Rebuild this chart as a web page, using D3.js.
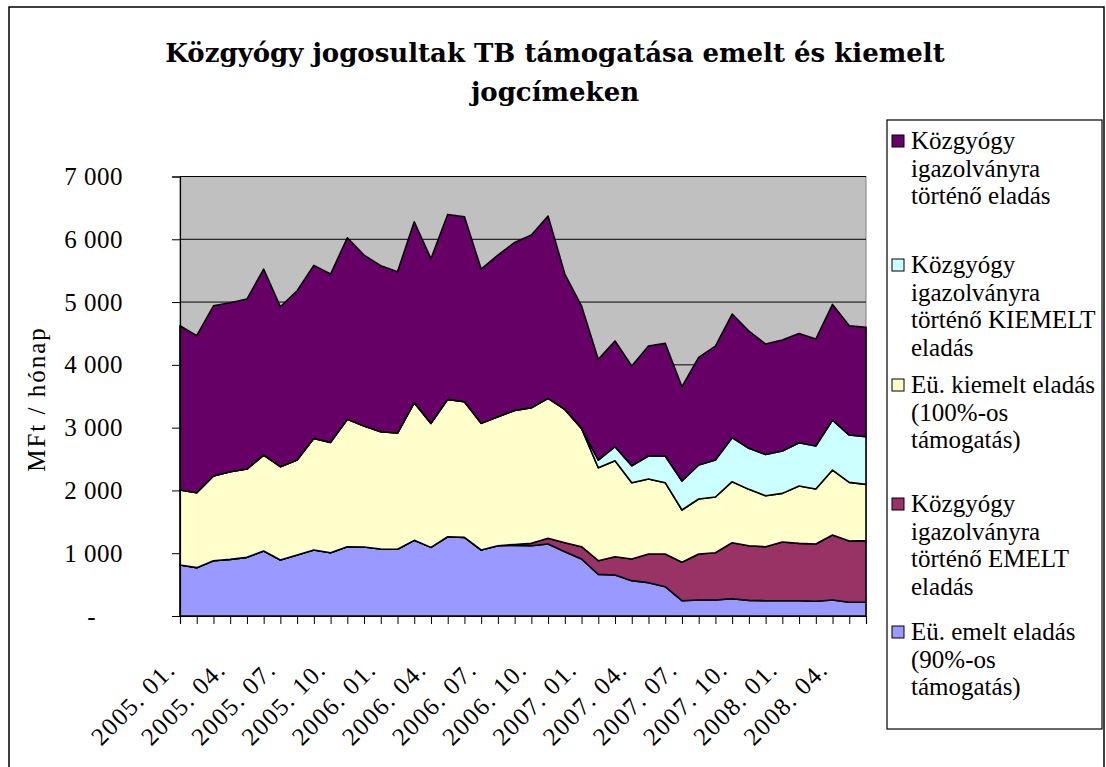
<!DOCTYPE html>
<head>
    <meta charset="utf-8">
    <script src="https://d3js.org/d3.v7.min.js"></script>
    <style>
        body { margin: 0; background: #fff; }
        text { fill: #000; }
    </style>
</head>
<body>
    <svg></svg>
</body>

<script>
    // Months (category axis)
    var months = ["2005. 01.", "2005. 02.", "2005. 03.", "2005. 04.", "2005. 05.", "2005. 06.",
        "2005. 07.", "2005. 08.", "2005. 09.", "2005. 10.", "2005. 11.", "2005. 12.",
        "2006. 01.", "2006. 02.", "2006. 03.", "2006. 04.", "2006. 05.", "2006. 06.",
        "2006. 07.", "2006. 08.", "2006. 09.", "2006. 10.", "2006. 11.", "2006. 12.",
        "2007. 01.", "2007. 02.", "2007. 03.", "2007. 04.", "2007. 05.", "2007. 06.",
        "2007. 07.", "2007. 08.", "2007. 09.", "2007. 10.", "2007. 11.", "2007. 12.",
        "2008. 01.", "2008. 02.", "2008. 03.", "2008. 04.", "2008. 05.", "2008. 06."];

    // Series values, MFt / month (bottom to top of the stack)
    var euEmelt = [812, 770, 881, 902, 934, 1035, 892, 971, 1051, 1008, 1104, 1099, 1067, 1062,
        1205, 1093, 1263, 1253, 1051, 1120, 1125, 1120, 1146, 1024, 908, 663, 653, 563, 531, 467,
        244, 255, 255, 276, 249, 244, 244, 244, 234, 255, 218, 218];
    var kgyEmelt = [0, 0, 0, 0, 0, 0, 0, 0, 0, 0, 0, 0, 0, 0, 0, 0, 0, 0, 0, 0,
        15, 37, 91, 144, 196, 218, 292, 345, 456, 520, 611, 732, 753, 892, 871, 860, 934, 913,
        912, 1035, 976, 982];
    var euKiemelt = [1194, 1194, 1348, 1396, 1407, 1529, 1486, 1513, 1778, 1757, 2028, 1926,
        1868, 1852, 2192, 1975, 2187, 2160, 2017, 2054, 2135, 2160, 2229, 2123, 1884, 1481, 1528,
        1215, 1195, 1136, 833, 876, 887, 971, 897, 812, 775, 913, 876, 1035, 934, 897];
    var kgyKiemelt = [0, 0, 0, 0, 0, 0, 0, 0, 0, 0, 0, 0, 0, 0, 0, 0, 0, 0, 0, 0, 0, 0, 0, 0, 0,
        120, 223, 271, 366, 425, 462, 542, 589, 701, 653, 658, 674, 690, 685, 796, 754, 759];
    var kgyEladas = [2617, 2500, 2712, 2691, 2707, 2961, 2548, 2696, 2755, 2681, 2892, 2723,
        2644, 2569, 2882, 2622, 2946, 2946, 2457, 2574, 2675, 2750, 2903, 2155, 1948, 1605, 1683,
        1587, 1751, 1794, 1502, 1714, 1815, 1969, 1868, 1757, 1768, 1741, 1704, 1842, 1741, 1741];

    var seriesKeys = ["euEmelt", "kgyEmelt", "euKiemelt", "kgyKiemelt", "kgyEladas"];
    var seriesColors = ["#9999FF", "#993366", "#FFFFCC", "#CCFFFF", "#660066"];
    var yTicks = [0, 1000, 2000, 3000, 4000, 5000, 6000, 7000];

    // Legend (top to bottom)
    var legendKeys = ["kgyEladas", "kgyKiemelt", "euKiemelt", "kgyEmelt", "euEmelt"];
    var legendLabels = [
        ["Közgyógy", "igazolványra", "történő eladás"],
        ["Közgyógy", "igazolványra", "történő KIEMELT", "eladás"],
        ["Eü. kiemelt eladás", "(100%-os", "támogatás)"],
        ["Közgyógy", "igazolványra", "történő EMELT", "eladás"],
        ["Eü. emelt eladás", "(90%-os", "támogatás)"]
    ];

    // Variables
    var width = 1106;
    var height = 767;
    var plot = {left: 180, right: 866, top: 176.5, bottom: 616};
    var serif = '"Liberation Serif", "Times New Roman", serif';

    var svg = d3.select('svg')
        .attr('width', width)
        .attr('height', height);

    // Chart border
    svg.append('rect')
        .attr('x', 9).attr('y', 7)
        .attr('width', 1095).attr('height', 780)
        .attr('fill', '#fff')
        .attr('stroke', '#000')
        .attr('stroke-width', 1.5);

    // Title
    var title = svg.append('text')
        .attr('text-anchor', 'middle')
        .style('font-family', '"DejaVu Serif"')
        .style('font-weight', 'bold')
        .style('font-size', '26px');
    title.append('tspan').attr('x', 555).attr('y', 62)
        .text('Közgyógy jogosultak TB támogatása emelt és kiemelt');
    title.append('tspan').attr('x', 555).attr('y', 101)
        .text('jogcímeken');

    // Table for the stack
    var table = months.map(function (m, i) {
        return {
            month: m,
            euEmelt: euEmelt[i],
            kgyEmelt: kgyEmelt[i],
            euKiemelt: euKiemelt[i],
            kgyKiemelt: kgyKiemelt[i],
            kgyEladas: kgyEladas[i]
        };
    });

    var stacked = d3.stack().keys(seriesKeys)(table);

    // Scales
    var x = d3.scalePoint()
        .domain(months)
        .range([plot.left, plot.right])
        .padding(0);
    var y = d3.scaleLinear()
        .domain([0, 7000])
        .range([plot.bottom, plot.top]);

    // Plot background
    svg.append('rect')
        .attr('x', plot.left).attr('y', plot.top)
        .attr('width', plot.right - plot.left)
        .attr('height', plot.bottom - plot.top)
        .attr('fill', '#C0C0C0')
        .attr('stroke', '#808080');

    // Gridlines
    svg.append('g')
        .selectAll('line')
        .data(yTicks.slice(1))
        .enter().append('line')
        .attr('x1', plot.left).attr('x2', plot.right)
        .attr('y1', function (d) { return y(d); })
        .attr('y2', function (d) { return y(d); })
        .attr('stroke', '#000')
        .attr('stroke-width', 1);

    // Areas
    var area = d3.area()
        .x(function (d) { return x(d.data.month); })
        .y0(function (d) { return y(d[0]); })
        .y1(function (d) { return y(d[1]); });

    svg.append('g')
        .selectAll('path')
        .data(stacked)
        .enter().append('path')
        .attr('d', area)
        .attr('fill', function (d, i) { return seriesColors[i]; })
        .attr('stroke', '#000')
        .attr('stroke-width', 1.6)
        .attr('stroke-linejoin', 'round');

    // Y axis
    var loc = d3.formatLocale({decimal: ',', thousands: ' ', grouping: [3], currency: ['', '']});
    var fmt = loc.format(',');
    var yAxis = svg.append('g')
        .attr('transform', 'translate(' + plot.left + ',0)')
        .call(d3.axisLeft(y)
            .tickValues(yTicks)
            .tickSize(8)
            .tickPadding(49)
            .tickFormat(function (d) { return d === 0 ? '-' : fmt(d); }));
    yAxis.select('.domain').attr('stroke', '#000').attr('stroke-width', 1.2);
    yAxis.selectAll('.tick line').attr('stroke', '#000');
    yAxis.selectAll('.tick text')
        .style('font-family', serif)
        .style('font-size', '25px')
        .style('letter-spacing', '0.5px')
        .attr('fill', '#000');
    yAxis.selectAll('.tick text')
        .filter(function (d) { return d === 0; })
        .attr('dx', -27);

    // X axis (tick on every month)
    var xAxis = svg.append('g')
        .attr('transform', 'translate(0,' + plot.bottom + ')')
        .call(d3.axisBottom(x).tickSize(8).tickFormat(''));
    xAxis.select('.domain').attr('stroke', '#000').attr('stroke-width', 1.2);
    xAxis.selectAll('.tick line').attr('stroke', '#000');

    // X labels every third month
    svg.append('g')
        .selectAll('text')
        .data(months.filter(function (m, i) { return i % 3 === 0; }))
        .enter().append('text')
        .attr('transform', function (d) {
            return 'translate(' + (x(d) - 3) + ',671) rotate(-45)';
        })
        .attr('text-anchor', 'end')
        .style('font-family', serif)
        .style('font-size', '25px')
        .style('letter-spacing', '1.5px')
        .text(function (d) { return d; });

    // Y axis title
    svg.append('text')
        .attr('transform', 'translate(45,399) rotate(-90)')
        .attr('text-anchor', 'middle')
        .style('font-family', serif)
        .style('font-size', '25px')
        .style('letter-spacing', '2px')
        .text('MFt / hónap');

    // Legend
    var legendTop = [141, 265, 385, 504, 632];
    var lineStep = 27.5;
    svg.append('rect')
        .attr('x', 887).attr('y', 120)
        .attr('width', 215).attr('height', 609)
        .attr('fill', '#fff')
        .attr('stroke', '#000')
        .attr('stroke-width', 1.2);

    var entries = svg.append('g')
        .selectAll('g')
        .data(legendKeys)
        .enter().append('g')
        .attr('transform', function (d, i) { return 'translate(0,' + legendTop[i] + ')'; });

    entries.append('rect')
        .attr('x', 892).attr('y', -6)
        .attr('width', 12).attr('height', 12)
        .attr('fill', function (d) { return seriesColors[seriesKeys.indexOf(d)]; })
        .attr('stroke', '#000')
        .attr('stroke-width', 1);

    entries.append('text')
        .style('font-family', serif)
        .style('font-size', '25px')
        .selectAll('tspan')
        .data(function (d, i) { return legendLabels[i]; })
        .enter().append('tspan')
        .attr('x', 911)
        .attr('y', function (d, j) { return 8 + j * lineStep; })
        .text(function (d) { return d; });
</script>
